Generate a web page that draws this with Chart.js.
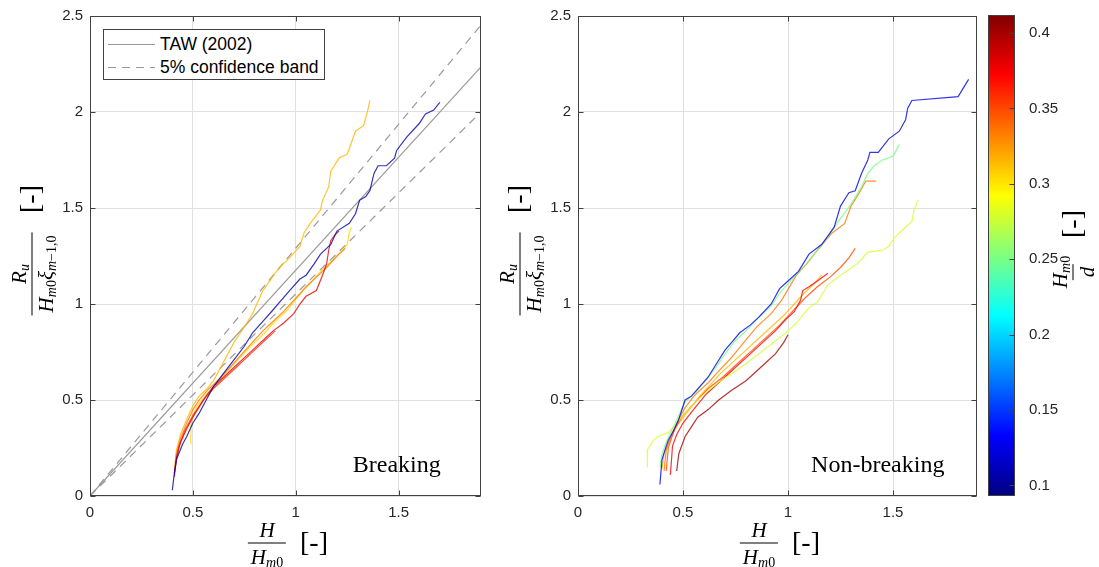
<!DOCTYPE html>
<html>
<head>
<meta charset="utf-8">
<script src="https://cdn.jsdelivr.net/npm/chart.js@4.4.1/dist/chart.umd.min.js"></script>
<style>
  body { margin: 0; background: #fff; width: 1099px; height: 567px; position: relative; overflow: hidden; font-family: "Liberation Sans", Arial, sans-serif; }
  .wrap { position: absolute; top: 0; height: 567px; }
  .math { position: absolute; font-family: "Liberation Serif", "Times New Roman", serif; color: #000; white-space: nowrap; transform: translate(-50%, -50%); }
  .rot { transform: translate(-50%, -50%) rotate(-90deg); }
  .frac { display: inline-flex; flex-direction: column; align-items: center; font-size: 21px; }
  .frac .num, .frac .den { line-height: 20px; height: 20px; padding: 0 3px; }
  .frac .num { padding-bottom: 3px; }
  .frac .den { border-top: 1px solid #000; padding-top: 3px; }
  .frac i { font-style: italic; }
  .frac sub { font-size: 14px; position: relative; top: 3px; vertical-align: baseline; line-height: 1; }
  .br { font-size: 28px; line-height: 28px; }
  .legend { position: absolute; left: 103px; top: 29px; width: 220px; height: 49px; border: 1px solid #404040; background: #fff; font-size: 17.5px; color: #000; }
  .legend .row { position: absolute; left: 0; height: 24px; line-height: 24px; width: 100%; }
  .legend .sample { position: absolute; left: 4px; width: 47px; top: 12px; height: 1.2px; background: #9a9a9a; }
  .legend .dashed { background: repeating-linear-gradient(90deg, #9a9a9a 0 8px, transparent 8px 14px); }
  .legend .txt { position: absolute; left: 56px; top: 0; }
</style>
</head>
<body>
<div class="wrap" style="left:0;width:500px"><canvas id="breaking" width="500" height="567"></canvas></div>
<div class="wrap" style="left:488px;width:492px"><canvas id="nonbreaking" width="492" height="567"></canvas></div>
<div class="wrap" style="left:985px;width:114px"><canvas id="colorbar" width="114" height="567"></canvas></div>

<div class="legend">
  <div class="row" style="top:2px"><span class="sample"></span><span class="txt">TAW (2002)</span></div>
  <div class="row" style="top:25px"><span class="sample dashed"></span><span class="txt">5% confidence band</span></div>
</div>

<!-- axis labels, left panel -->
<div class="math rot" style="left:32px;top:274px">
  <span class="frac"><span class="num"><i>R</i><sub><i>u</i></sub></span><span class="den"><i>H</i><sub><i>m</i>0</sub><i>ξ</i><sub><i>m</i>−1,0</sub></span></span>
</div>
<div class="math rot br" style="left:30px;top:199px">[-]</div>
<div class="math" style="left:267px;top:543px">
  <span class="frac"><span class="num"><i>H</i></span><span class="den"><i>H</i><sub><i>m</i>0</sub></span></span>
</div>
<div class="math br" style="left:314px;top:542px">[-]</div>

<!-- axis labels, right panel -->
<div class="math rot" style="left:520px;top:274px">
  <span class="frac"><span class="num"><i>R</i><sub><i>u</i></sub></span><span class="den"><i>H</i><sub><i>m</i>0</sub><i>ξ</i><sub><i>m</i>−1,0</sub></span></span>
</div>
<div class="math rot br" style="left:518px;top:199px">[-]</div>
<div class="math" style="left:759px;top:543px">
  <span class="frac"><span class="num"><i>H</i></span><span class="den"><i>H</i><sub><i>m</i>0</sub></span></span>
</div>
<div class="math br" style="left:806px;top:542px">[-]</div>

<!-- colorbar label -->
<div class="math rot" style="left:1073px;top:272px">
  <span class="frac"><span class="num"><i>H</i><sub><i>m</i>0</sub></span><span class="den"><i>d</i></span></span>
</div>
<div class="math rot br" style="left:1072px;top:224px">[-]</div>

<script>
// axes
const xMax = 1.9;
const yMax = 2.5;
const xTicks = [0, 0.5, 1, 1.5];
const yTicks = [0, 0.5, 1, 1.5, 2, 2.5];
const cbarMin = 0.093;
const cbarMax = 0.412;
const cbarTicks = [0.1, 0.15, 0.2, 0.25, 0.3, 0.35, 0.4];

// TAW (2002) and 5% band, end points
const tawLine = [[0, 0], [1.9, 2.235]];
const bandUpper = [[0, 0], [1.9, 2.453]];
const bandLower = [[0, 0], [1.9, 2.0]];

// breaking tests, [H/Hm0, Ru/(Hm0 xi)]
const brkBlue = [[0.40,0.03],[0.41,0.12],[0.42,0.19],[0.45,0.27],[0.47,0.31],[0.50,0.38],[0.53,0.43],[0.57,0.51],[0.60,0.57],[0.65,0.64],[0.70,0.71],[0.75,0.78],[0.79,0.85],[0.84,0.91],[0.89,0.97],[0.93,1.02],[0.97,1.07],[1.02,1.13],[1.05,1.15],[1.09,1.21],[1.12,1.26],[1.17,1.31],[1.20,1.38],[1.26,1.42],[1.29,1.47],[1.31,1.54],[1.34,1.56],[1.36,1.59],[1.38,1.68],[1.40,1.72],[1.44,1.72],[1.48,1.76],[1.49,1.80],[1.54,1.87],[1.60,1.94],[1.63,1.99],[1.67,2.01],[1.70,2.05]];
const brkRed = [[0.41,0.10],[0.42,0.20],[0.44,0.28],[0.47,0.35],[0.50,0.41],[0.54,0.48],[0.57,0.53],[0.60,0.57],[0.65,0.62],[0.69,0.66],[0.74,0.71],[0.79,0.76],[0.84,0.81],[0.89,0.86],[0.94,0.90],[0.99,0.95],[1.02,1.00],[1.05,1.04],[1.10,1.07],[1.13,1.15],[1.15,1.21],[1.16,1.28],[1.17,1.33],[1.19,1.36],[1.21,1.38]];
const brkRedLight = [[0.41,0.12],[0.43,0.25],[0.46,0.34],[0.50,0.42],[0.55,0.50],[0.60,0.56],[0.66,0.62],[0.72,0.68],[0.78,0.74],[0.84,0.80],[0.90,0.86]];
const brkOrange = [[0.41,0.12],[0.42,0.22],[0.44,0.30],[0.47,0.38],[0.50,0.45],[0.53,0.50],[0.57,0.55],[0.62,0.60],[0.68,0.67],[0.73,0.73],[0.78,0.79],[0.84,0.86],[0.89,0.91],[0.94,0.96],[1.00,1.03],[1.05,1.09],[1.10,1.14],[1.15,1.19],[1.20,1.25],[1.24,1.29]];
const brkAmber = [[0.41,0.13],[0.42,0.24],[0.44,0.32],[0.47,0.40],[0.50,0.47],[0.53,0.52],[0.57,0.56],[0.60,0.60],[0.65,0.70],[0.70,0.80],[0.75,0.88],[0.79,0.95],[0.84,1.07],[0.88,1.13],[0.92,1.19],[0.97,1.24],[1.02,1.30],[1.04,1.37],[1.07,1.42],[1.12,1.49],[1.13,1.54],[1.16,1.61],[1.17,1.69],[1.21,1.76],[1.25,1.78],[1.29,1.90],[1.33,1.93],[1.35,2.01],[1.36,2.06]];
const brkYellow = [[0.49,0.27],[0.49,0.36],[0.50,0.42],[0.52,0.47],[0.55,0.51],[0.60,0.57],[0.66,0.64],[0.72,0.71],[0.78,0.78],[0.84,0.84],[0.90,0.91],[0.96,0.97],[1.02,1.05],[1.08,1.12],[1.13,1.18],[1.18,1.23],[1.22,1.27],[1.25,1.31],[1.26,1.37],[1.27,1.40]];
const breakingCurves = [brkBlue, brkRed, brkRedLight, brkOrange, brkAmber, brkYellow];
const breakingHm0d = [0.105, 0.38, 0.36, 0.335, 0.315, 0.305];

// non-breaking tests
const nbBlue = [[0.39,0.06],[0.40,0.19],[0.42,0.26],[0.43,0.29],[0.46,0.35],[0.48,0.40],[0.51,0.50],[0.54,0.52],[0.58,0.57],[0.62,0.62],[0.66,0.69],[0.70,0.76],[0.74,0.81],[0.77,0.85],[0.82,0.89],[0.86,0.93],[0.92,1.00],[0.96,1.08],[1.00,1.12],[1.05,1.17],[1.10,1.26],[1.16,1.31],[1.22,1.40],[1.25,1.51],[1.29,1.58],[1.32,1.59],[1.35,1.68],[1.38,1.75],[1.39,1.79],[1.43,1.79],[1.48,1.86],[1.53,1.90],[1.56,1.96],[1.57,2.02],[1.59,2.06],[1.81,2.08],[1.86,2.17]];
const nbGreen = [[0.39,0.15],[0.40,0.22],[0.42,0.28],[0.45,0.35],[0.48,0.42],[0.51,0.49],[0.55,0.53],[0.60,0.59],[0.65,0.66],[0.70,0.74],[0.75,0.81],[0.80,0.86],[0.86,0.93],[0.92,0.99],[0.97,1.07],[1.02,1.13],[1.08,1.20],[1.14,1.28],[1.19,1.35],[1.24,1.43],[1.30,1.52],[1.35,1.61],[1.38,1.68],[1.41,1.72],[1.45,1.75],[1.50,1.77],[1.53,1.83]];
const nbOrange = [[0.41,0.13],[0.42,0.24],[0.45,0.33],[0.48,0.40],[0.51,0.46],[0.56,0.53],[0.62,0.59],[0.67,0.65],[0.73,0.72],[0.79,0.80],[0.85,0.88],[0.92,0.95],[0.97,1.02],[1.04,1.15],[1.09,1.21],[1.14,1.28],[1.21,1.37],[1.27,1.42],[1.30,1.51],[1.34,1.58],[1.37,1.64],[1.42,1.64]];
const nbLime = [[0.33,0.15],[0.33,0.24],[0.36,0.29],[0.38,0.31],[0.43,0.33],[0.47,0.38],[0.51,0.43],[0.56,0.49],[0.62,0.55],[0.68,0.60],[0.75,0.65],[0.80,0.69],[0.86,0.74],[0.92,0.79],[0.99,0.85],[1.04,0.90],[1.10,0.98],[1.14,1.01],[1.19,1.10],[1.25,1.15],[1.33,1.21],[1.38,1.27],[1.45,1.28],[1.48,1.30],[1.51,1.35],[1.56,1.40],[1.59,1.43],[1.60,1.49],[1.62,1.54]];
const nbDarkRed = [[0.47,0.13],[0.48,0.22],[0.51,0.31],[0.54,0.36],[0.57,0.41],[0.62,0.45],[0.67,0.50],[0.73,0.55],[0.80,0.60],[0.85,0.65],[0.89,0.69],[0.94,0.74],[0.98,0.80],[1.00,0.84]];
const nbRed = [[0.44,0.11],[0.45,0.26],[0.47,0.32],[0.50,0.38],[0.55,0.45],[0.61,0.53],[0.67,0.59],[0.74,0.66],[0.81,0.73],[0.88,0.80],[0.94,0.86],[0.99,0.92],[1.03,0.96],[1.06,1.02],[1.07,1.07],[1.10,1.09],[1.14,1.12],[1.19,1.16]];
const nbOrangeRed = [[0.42,0.13],[0.43,0.25],[0.46,0.35],[0.50,0.42],[0.56,0.49],[0.62,0.56],[0.69,0.62],[0.76,0.69],[0.83,0.76],[0.90,0.83],[0.96,0.89],[1.02,0.96],[1.08,1.03],[1.14,1.09],[1.20,1.14],[1.25,1.19],[1.29,1.24],[1.32,1.29]];
const nbAmber = [[0.40,0.14],[0.41,0.22],[0.44,0.30],[0.48,0.38],[0.53,0.45],[0.58,0.52],[0.63,0.58],[0.68,0.64],[0.74,0.70],[0.80,0.76],[0.86,0.82],[0.92,0.88],[0.98,0.94],[1.03,1.00],[1.08,1.06],[1.12,1.10],[1.16,1.15]];
const nonBreakingCurves = [nbBlue, nbGreen, nbOrange, nbLime, nbDarkRed, nbRed, nbOrangeRed, nbAmber];
const nonBreakingHm0d = [0.125, 0.25, 0.335, 0.28, 0.40, 0.375, 0.35, 0.315];

const tickFont = { family: '"Liberation Sans", Arial, sans-serif', size: 15 };
const tickColor = '#262626';

function jet(t) {
  const c = v => Math.max(0, Math.min(1, v));
  return [c(Math.min(4 * t - 1.5, -4 * t + 4.5)), c(Math.min(4 * t - 0.5, -4 * t + 3.5)), c(Math.min(4 * t + 0.5, -4 * t + 2.5))];
}

function jetColor(v, alpha) {
  const t = (v - cbarMin) / (cbarMax - cbarMin);
  const [r, g, b] = jet(t).map(x => Math.round(x * 255));
  return `rgba(${r},${g},${b},${alpha})`;
}

const toXY = pts => pts.map(([x, y]) => ({ x, y }));

// MATLAB-like box with inward ticks
const boxPlugin = {
  id: 'matlabBox',
  afterDatasetsDraw(chart, args, opts) {
    const { ctx, chartArea: a, scales } = chart;
    const l = Math.round(a.left) + 0.5, r = Math.round(a.right) - 0.5;
    const t = Math.round(a.top) + 0.5, b = Math.round(a.bottom) - 0.5;
    ctx.save();
    ctx.strokeStyle = '#404040';
    ctx.lineWidth = 1;
    ctx.strokeRect(l, t, r - l, b - t);
    ctx.beginPath();
    if (opts.xTicks) {
      opts.xTicks.forEach(v => {
        const px = Math.round(scales.x.getPixelForValue(v)) + 0.5;
        ctx.moveTo(px, b); ctx.lineTo(px, b - 5);
        ctx.moveTo(px, t); ctx.lineTo(px, t + 5);
      });
    }
    if (opts.yTicks) {
      opts.yTicks.forEach(v => {
        const py = Math.round(scales.y.getPixelForValue(v)) + 0.5;
        if (!opts.rightOnly) { ctx.moveTo(l, py); ctx.lineTo(l + 5, py); }
        ctx.moveTo(r, py); ctx.lineTo(r - 5, py);
      });
    }
    ctx.stroke();
    ctx.restore();
  }
};

// "Breaking" / "Non-breaking" note inside the axes
const notePlugin = {
  id: 'panelNote',
  afterDatasetsDraw(chart, args, opts) {
    if (!opts.text) return;
    const { ctx, scales } = chart;
    ctx.save();
    ctx.font = '24px "Liberation Serif", "Times New Roman", serif';
    ctx.fillStyle = '#000';
    ctx.textAlign = 'left';
    ctx.textBaseline = 'alphabetic';
    ctx.fillText(opts.text, scales.x.getPixelForValue(opts.x), scales.y.getPixelForValue(opts.y));
    ctx.restore();
  }
};

function panelOptions(rightPad, note) {
  return {
    responsive: false,
    animation: false,
    devicePixelRatio: 1,
    events: [],
    layout: { padding: { top: 15, right: rightPad, left: 0, bottom: 0 } },
    scales: {
      x: {
        type: 'linear', min: 0, max: xMax,
        afterBuildTicks: s => { s.ticks = xTicks.map(v => ({ value: v })); },
        afterFit: s => { s.height = 71; },
        grid: { color: '#e0e0e0', drawTicks: false },
        border: { display: false },
        ticks: { color: tickColor, font: tickFont, padding: 8, maxRotation: 0, callback: v => String(v) }
      },
      y: {
        type: 'linear', min: 0, max: yMax,
        afterBuildTicks: s => { s.ticks = yTicks.map(v => ({ value: v })); },
        afterFit: s => { s.width = 90; },
        grid: { color: '#e0e0e0', drawTicks: false },
        border: { display: false },
        ticks: { color: tickColor, font: tickFont, padding: 7, callback: v => String(v) }
      }
    },
    plugins: {
      legend: { display: false },
      tooltip: { enabled: false },
      matlabBox: { xTicks, yTicks },
      panelNote: note
    }
  };
}

function curveDatasets(curves, values) {
  return curves.map((pts, i) => ({
    data: toXY(pts),
    borderColor: jetColor(values[i], 0.8),
    borderWidth: 1.2,
    pointRadius: 0,
    fill: false,
    tension: 0
  }));
}

function setupBreaking() {
  const refLine = (pts, dash) => ({
    data: toXY(pts),
    borderColor: '#9a9a9a',
    borderWidth: 1.2,
    borderDash: dash,
    pointRadius: 0,
    fill: false,
    tension: 0
  });
  new Chart(document.getElementById('breaking'), {
    type: 'line',
    data: {
      datasets: [
        ...curveDatasets(breakingCurves, breakingHm0d),
        refLine(tawLine, []),
        refLine(bandUpper, [8, 6]),
        refLine(bandLower, [8, 6])
      ]
    },
    options: panelOptions(19, { text: 'Breaking', x: 1.277, y: 0.125 }),
    plugins: [boxPlugin, notePlugin]
  });
}

function setupNonBreaking() {
  new Chart(document.getElementById('nonbreaking'), {
    type: 'line',
    data: { datasets: curveDatasets(nonBreakingCurves, nonBreakingHm0d) },
    options: panelOptions(3, { text: 'Non-breaking', x: 1.11, y: 0.125 }),
    plugins: [boxPlugin, notePlugin]
  });
}

function setupColorbar() {
  new Chart(document.getElementById('colorbar'), {
    type: 'bar',
    data: {
      labels: [''],
      datasets: [{
        data: [[cbarMin, cbarMax]],
        borderWidth: 0,
        borderSkipped: false,
        barPercentage: 1,
        categoryPercentage: 1,
        backgroundColor: ctx => {
          const { chart } = ctx;
          if (!chart.chartArea) return '#888';
          const y0 = chart.scales.y.getPixelForValue(cbarMin);
          const y1 = chart.scales.y.getPixelForValue(cbarMax);
          const g = chart.ctx.createLinearGradient(0, y0, 0, y1);
          for (let i = 0; i <= 64; i++) {
            const [r, gg, b] = jet(i / 64).map(x => Math.round(x * 255));
            g.addColorStop(i / 64, `rgb(${r},${gg},${b})`);
          }
          return g;
        }
      }]
    },
    options: {
      responsive: false,
      animation: false,
      devicePixelRatio: 1,
      events: [],
      layout: { padding: { top: 15, left: 3, right: 0, bottom: 71 } },
      scales: {
        x: { display: false },
        y: {
          position: 'right', min: cbarMin, max: cbarMax,
          afterBuildTicks: s => { s.ticks = cbarTicks.map(v => ({ value: v })); },
          afterFit: s => { s.width = 84; },
          grid: { display: false },
          border: { display: false },
          ticks: { color: tickColor, font: tickFont, padding: 6, callback: v => String(+v.toFixed(2)) }
        }
      },
      plugins: {
        legend: { display: false },
        tooltip: { enabled: false },
        matlabBox: { yTicks: cbarTicks, rightOnly: true }
      }
    },
    plugins: [boxPlugin]
  });
}

document.addEventListener('DOMContentLoaded', () => {
  setupBreaking();
  setupNonBreaking();
  setupColorbar();
});
</script>
</body>
</html>
